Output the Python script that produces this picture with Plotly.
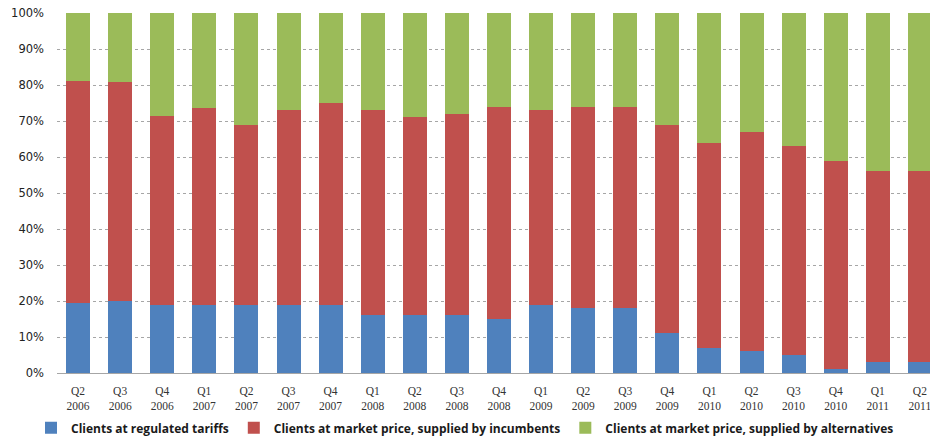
import plotly.graph_objects as go

# Quarters covered by the survey
quarters = ["Q2<br>2006", "Q3<br>2006", "Q4<br>2006", "Q1<br>2007", "Q2<br>2007", "Q3<br>2007",
            "Q4<br>2007", "Q1<br>2008", "Q2<br>2008", "Q3<br>2008", "Q4<br>2008", "Q1<br>2009",
            "Q2<br>2009", "Q3<br>2009", "Q4<br>2009", "Q1<br>2010", "Q2<br>2010", "Q3<br>2010",
            "Q4<br>2010", "Q1<br>2011", "Q2<br>2011"]

# Share of clients (%) per supply category
regulated = [19.5, 20, 19, 19, 19, 19, 19, 16, 16, 16, 15, 19, 18, 18, 11, 7, 6, 5, 1, 3, 3]
incumbents = [61.5, 60.7, 52.5, 54.5, 50, 54, 56, 57, 55, 56, 59, 54, 56, 56, 58, 57, 61, 58, 58, 53, 53]
alternatives = [19, 19.3, 28.5, 26.5, 31, 27, 25, 27, 29, 28, 26, 27, 26, 26, 31, 36, 33, 37, 41, 44, 44]

series = [
    ("Clients at regulated tariffs", regulated, "#4F81BD"),
    ("Clients at market price, supplied by incumbents", incumbents, "#C0504D"),
    ("Clients at market price, supplied by alternatives", alternatives, "#9BBB59"),
]

xpos = list(range(len(quarters)))

fig = go.Figure()
for name, vals, color in series:
    fig.add_trace(go.Bar(x=xpos, y=vals, name=name,
                         marker=dict(color=color, line=dict(width=0))))

fig.update_layout(
    width=930, height=442,
    margin=dict(l=57, r=0, t=13, b=69, autoexpand=False),
    barmode="stack", bargap=0.43,
    plot_bgcolor="white", paper_bgcolor="white",
    showlegend=True,
    legend=dict(orientation="h", x=0.5, xanchor="center", xref="container",
                y=0.032, yanchor="middle", yref="container",
                bgcolor="rgba(0,0,0,0)",
                font=dict(family="Open Sans", size=12, color="#1a1a1a", weight="bold"),
                itemwidth=30, tracegroupgap=0, traceorder="normal"),
    # the last quarter runs past the right edge of the plot
    xaxis=dict(tickmode="array", tickvals=xpos, ticktext=quarters,
               range=[-0.5, 20.24], showgrid=False, showline=True, linecolor="#a6a6a6",
               linewidth=1, ticks="", ticklen=0, ticklabelstandoff=7,
               ticklabeloverflow="allow",
               tickfont=dict(family="Liberation Serif", size=11.5, color="#333333")),
    yaxis=dict(range=[0, 100], dtick=10, ticksuffix="%", showgrid=True,
               gridcolor="#a6a6a6", griddash="dot", gridwidth=1, zeroline=False,
               showline=False, ticks="", ticklabelstandoff=12,
               tickfont=dict(family="DejaVu Sans", size=11.5, color="#222222")),
)

fig.write_html("out.html")
